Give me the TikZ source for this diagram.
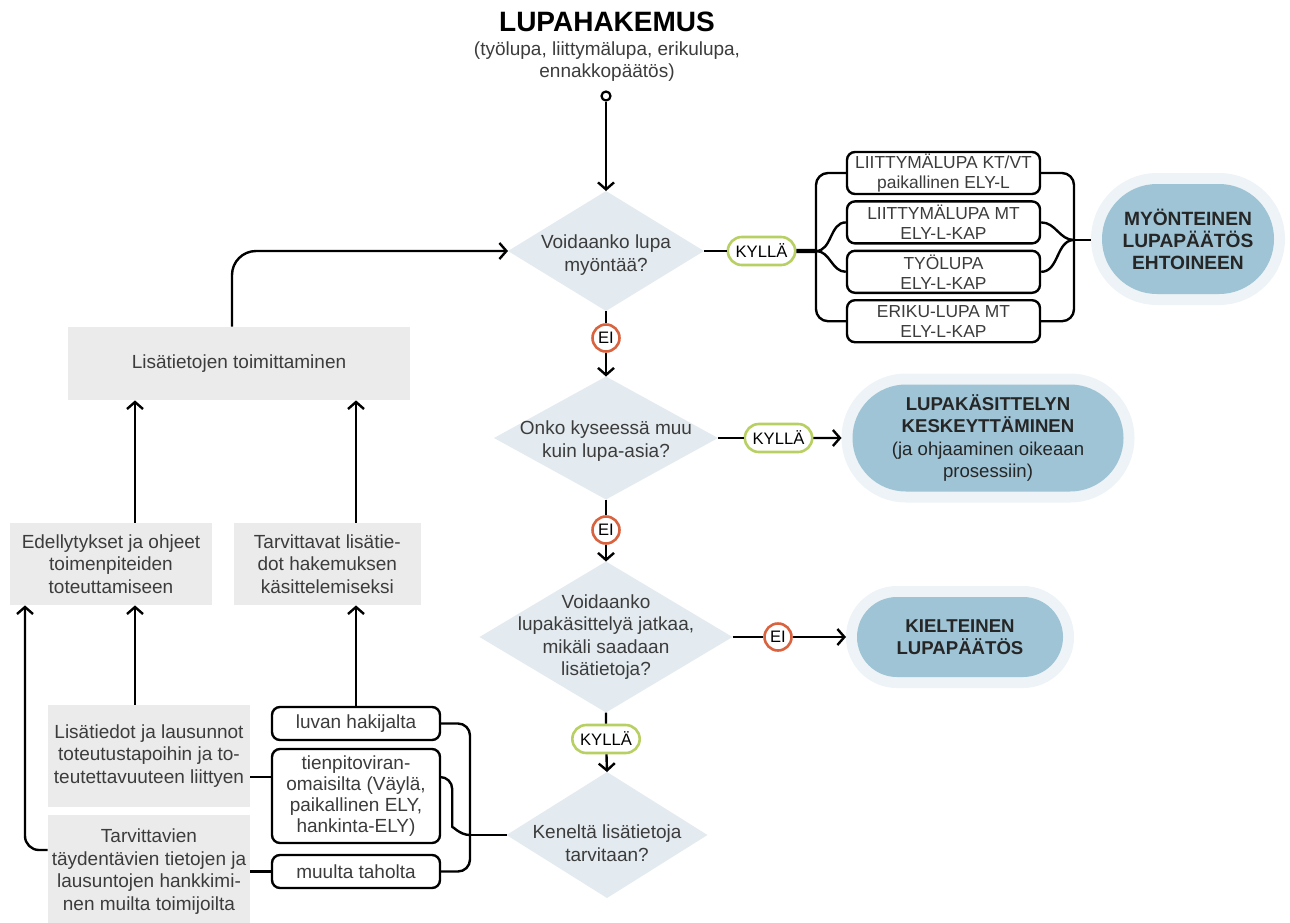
\documentclass[tikz,border=0pt]{standalone}
\usepackage{fontspec}
\setmainfont{Liberation Sans}
\usepackage{tikz}
\usetikzlibrary{arrows.meta}
\usetikzlibrary{positioning, shapes.geometric, shapes.misc}
\definecolor{diafill}{HTML}{E3EBF0}
\definecolor{boxfill}{HTML}{EBEBEB}
\definecolor{endfill}{HTML}{9EC4D6}
\definecolor{endhalo}{HTML}{EDF3F6}
\definecolor{yesgreen}{HTML}{B8D063}
\definecolor{nored}{HTML}{D9633F}
\definecolor{txtgray}{HTML}{3C3C3C}

\tikzset{
  flow/.style={line width=1.2pt, line join=round},
  arr/.style={flow, -{Straight Barb[length=3.5pt,width=8pt]}},
  decision/.style={diamond, fill=diafill, inner sep=0pt, outer sep=0pt},
  qtext/.style={align=center, text=txtgray, font=\fontsize{9.5}{11.3}\selectfont},
  infobox/.style={fill=boxfill, align=center, text=txtgray, inner sep=0pt, font=\fontsize{9.5}{11.2}\selectfont},
  choice/.style={draw, line width=1.2pt, rounded corners=4pt, fill=white, align=center, inner sep=0pt, text=txtgray},
  yes/.style={rounded rectangle, draw=yesgreen, line width=1.3pt, fill=white, inner xsep=3pt, inner ysep=0pt, minimum height=14pt, font=\fontsize{8.3}{9}\selectfont},
  no/.style={circle, draw=nored, line width=1.3pt, fill=white, inner sep=0pt, minimum size=13.5pt, font=\fontsize{8.3}{9}\selectfont},
  result/.style={rounded rectangle, fill=endfill, preaction={draw=endhalo, line width=11pt}, outer sep=5.5pt, inner sep=0pt, align=center, text=black!85, font=\fontsize{9.3}{11.3}\selectfont},
}

\begin{document}
\begin{tikzpicture}[x=0.5pt, y=-0.5pt]
\useasboundingbox (0,0) rectangle (1290,922);

\node[font=\fontsize{14}{16}\selectfont\bfseries] (title) at (607,22) {LUPAHAKEMUS};
\node[align=center, text=txtgray, font=\fontsize{9.5}{11}\selectfont] (sub) at (607,62) {(työlupa, liittymälupa, erikulupa,\\ennakkopäätös)};
\node[circle, draw, line width=1.1pt, fill=white, inner sep=0pt, minimum size=4.5pt] (start) at (606,96) {};

\node[decision, minimum width=98pt, minimum height=60pt] (d1) at (606,251) {};
\node[qtext, yshift=-2pt] (q1) at (d1) {Voidaanko lupa\\myöntää?};
\node[decision, minimum width=112pt, minimum height=61.5pt] (d2) at (606,438) {};
\node[qtext, yshift=-1.5pt] (q2) at (d2) {Onko kyseessä muu\\kuin lupa-asia?};
\node[decision, minimum width=126.5pt, minimum height=75.5pt] (d3) at (606,637) {};
\node[qtext] (q3) at (d3) {Voidaanko\\lupakäsittelyä jatkaa,\\mikäli saadaan\\lisätietoja?};
\node[decision, minimum width=100.5pt, minimum height=63pt] (d4) at (607,835) {};
\node[qtext, yshift=-4pt] (q4) at (d4) {Keneltä lisätietoja\\tarvitaan?};

\node[yes] (yes1) at (761.5,251) {KYLLÄ};
\node[no] (no1) at (606,338) {EI};
\node[yes] (yes2) at (778.5,438) {KYLLÄ};
\node[no] (no2) at (606,530) {EI};
\node[no] (no3) at (778,637) {EI};
\node[yes] (yes3) at (606,739) {KYLLÄ};

\node[choice, minimum width=96.5pt, minimum height=21pt, font=\fontsize{8.7}{10}\selectfont] (r1) at (943.5,173) {LIITTYMÄLUPA KT/VT\\paikallinen ELY-L};
\node[choice, minimum width=96.5pt, minimum height=21pt, font=\fontsize{8.7}{10}\selectfont, below=2.5pt of r1] (r2) {LIITTYMÄLUPA MT\\ELY-L-KAP};
\node[choice, minimum width=96.5pt, minimum height=21pt, font=\fontsize{8.7}{10}\selectfont, below=2.5pt of r2] (r3) {TYÖLUPA\\ELY-L-KAP};
\node[choice, minimum width=96.5pt, minimum height=21pt, font=\fontsize{8.7}{10}\selectfont, below=2.5pt of r3] (r4) {ERIKU-LUPA MT\\ELY-L-KAP};

\node[result, minimum width=86pt, minimum height=55pt, font=\fontsize{9.6}{11}\selectfont\bfseries] (e1) at (1188,239) {MYÖNTEINEN\\LUPAPÄÄTÖS\\EHTOINEEN};
\node[result, minimum width=135.5pt, minimum height=53.5pt] (e2) at (988,438) {\textbf{LUPAKÄSITTELYN}\\\textbf{KESKEYTTÄMINEN}\\(ja ohjaaminen oikeaan\\prosessiin)};
\node[result, minimum width=103pt, minimum height=40pt, font=\fontsize{9.3}{11.3}\selectfont\bfseries] (e3) at (960,637) {KIELTEINEN\\LUPAPÄÄTÖS};

\node[infobox, minimum width=171pt, minimum height=36.5pt] (b2) at (239,363.5) {Lisätietojen toimittaminen};
\node[infobox, minimum width=101pt, minimum height=41pt] (b3) at (111,564) {Edellytykset ja ohjeet\\toimenpiteiden\\toteuttamiseen};
\node[infobox, minimum width=93.5pt, minimum height=41pt, right=10.5pt of b3] (b4) {Tarvittavat lisätie-\\dot hakemuksen\\käsittelemiseksi};
\node[infobox, minimum width=101pt, minimum height=51pt] (b5) at (149,756) {Lisätiedot ja lausunnot\\toteutustapoihin ja to-\\teutettavuuteen liittyen};
\node[infobox, minimum width=101pt, minimum height=56.5pt] (b6) at (149,871.5) {Tarvittavien\\täydentävien tietojen ja\\lausuntojen hankkimi-\\nen muilta toimijoilta};

\node[choice, minimum width=84pt, minimum height=16.5pt, font=\fontsize{9.5}{10.6}\selectfont] (l1) at (356,723.5) {luvan hakijalta};
\node[choice, minimum width=84pt, minimum height=47pt, font=\fontsize{9.5}{10.6}\selectfont, below=3.3pt of l1] (l2) {tienpitoviran-\\omaisilta (Väylä,\\paikallinen ELY,\\hankinta-ELY)};
\node[choice, minimum width=84pt, minimum height=16.5pt, font=\fontsize{9.5}{10.6}\selectfont, below=4.8pt of l2] (l3) {muulta taholta};

\coordinate (j1) at (816,251);
\coordinate (j2) at (1074,240);
\coordinate (j4) at (470,835);
\coordinate (up1) at ([xshift=12pt]b3.south);

\draw[arr] (start) -- (d1.north);
\draw[flow] (d1.south) -- (no1);
\draw[arr] (no1) -- (d2.north);
\draw[flow] (d2.south) -- (no2);
\draw[arr] (no2) -- (d3.north);
\draw[flow] (d3.south) -- (yes3);
\draw[arr] (yes3) -- (d4.north);

\draw[flow] (d1.east) -- (yes1);
\draw[line width=2.2pt] (yes1) -- (j1);
\draw[flow, rounded corners=6pt] (r1.west) -| (j1) |- (r4.west);
\draw[flow] (j1) to[out=0, in=180] (r2.west);
\draw[flow] (j1) to[out=0, in=180] (r3.west);
\draw[flow, rounded corners=6pt] (r1.east) -| (j2) |- (r4.east);
\draw[flow] (r2.east) to[out=0, in=180] (j2);
\draw[flow] (r3.east) to[out=0, in=180] (j2);
\draw[flow] (j2) -- (e1.west |- j2);

\draw[flow] (d2.east) -- (yes2);
\draw[arr] (yes2) -- (e2);
\draw[flow] (d3.east) -- (no3);
\draw[arr] (no3) -- (e3);

\draw[flow] (d4.west) -- (j4);
\draw[flow, rounded corners=6pt] (l1.east) -| (j4) |- (l3.east);
\draw[flow, rounded corners=6pt] ([yshift=9.5pt]l2.east) -- ++(11,0) -- ++(0,38) to[out=-90, in=180] (j4);
\draw[flow] ([yshift=9.5pt]l2.west) -- ([yshift=9.5pt]l2.west -| b5.east);
\draw[flow] (l3.west) -- (l3.west -| b6.east);

\draw[arr] (l1.north) -- (l1.north |- b4.south);
\draw[arr] (b4.north -| l1.north) -- (l1.north |- b2.south);
\draw[arr] (b5.north -| up1) -- (up1);
\draw[arr] ([xshift=12pt]b3.north) -- (b2.south -| up1);
\draw[arr, rounded corners=7pt] ([yshift=10.75pt]b6.west) -| ([xshift=-43pt]b3.south);
\draw[arr, rounded corners=12pt] ([xshift=-3.5pt]b2.north) |- (d1.west);
\end{tikzpicture}
\end{document}
